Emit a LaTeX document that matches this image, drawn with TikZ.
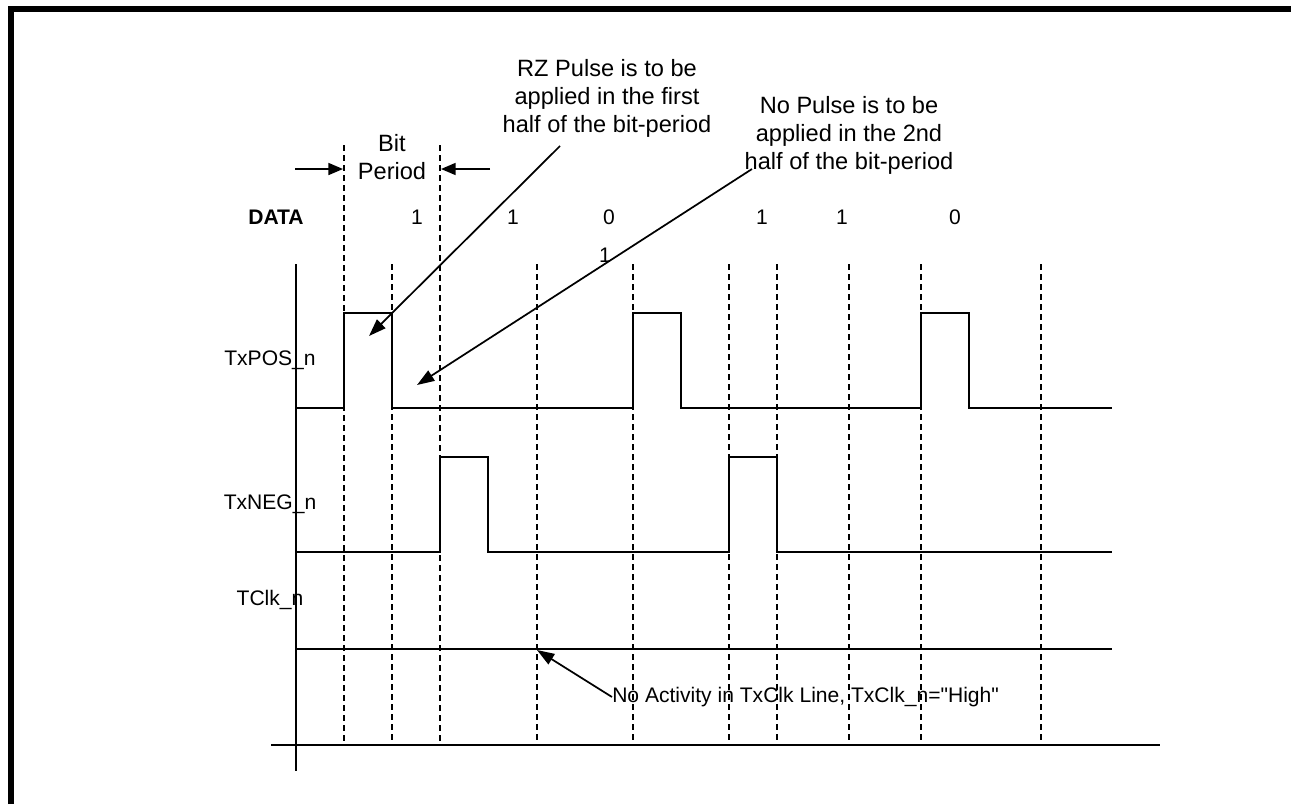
\documentclass[tikz,border=0pt]{standalone}
\usepackage{fontspec}
\setmainfont{Liberation Sans}
\usetikzlibrary{arrows.meta}
\begin{document}
\begin{tikzpicture}[x=0.75pt,y=-0.75pt,
  frame/.style={line width=4.5pt},
  axis/.style={line width=2.2pt},
  sig/.style={line width=1.5pt},
  grid/.style={line width=1.4pt,dash pattern=on 4.5pt off 3pt},
  lbl/.style={font=\fontsize{15.8}{21}\selectfont,inner sep=0pt},
  callout/.style={font=\fontsize{17.7}{21}\selectfont,inner sep=0pt,align=center},
  pointer/.style={line width=1.3pt,-{Triangle[length=13pt,width=9pt]}},
  bitarrow/.style={line width=1.3pt,-{Triangle[length=11pt,width=9pt]}}
]
\useasboundingbox (0,0) rectangle (1291,804);
% frame
\draw[frame] (11,804) -- (11,9) -- (1291,9);
% axes
\draw[axis] (296,264) -- (296,771);
\draw[axis] (271,745) -- (1160,745);
% dashed grid
\draw[grid] (344,145) -- (344,745);
\draw[grid] (440,145) -- (440,745);
\foreach \gx in {392,537,633,729,777,849,921,1041}
  \draw[grid] (\gx,264) -- (\gx,745);
% signals
\draw[sig] (296,408) -- (344,408) -- (344,313) -- (392,313) -- (392,408)
  -- (633,408) -- (633,313) -- (681,313) -- (681,408)
  -- (921,408) -- (921,313) -- (969,313) -- (969,408) -- (1112,408);
\draw[sig] (296,552) -- (440,552) -- (440,457) -- (488,457) -- (488,552)
  -- (729,552) -- (729,457) -- (777,457) -- (777,552) -- (1112,552);
\draw[sig] (296,649) -- (1112,649);
% signal labels
\node[lbl] (pos) at (270,360) {TxPOS\_n};
\node[lbl] (neg) at (270,504) {TxNEG\_n};
\node[lbl] (clk) at (270,600) {TClk\_n};
\node[lbl,font=\fontsize{15.8}{21}\selectfont\bfseries] (data) at (276,217) {DATA};
% data values
\node[lbl] (d1) at (417,217) {1};
\node[lbl] (d2) at (513,217) {1};
\node[lbl] (d3) at (609,217) {0};
\node[lbl] (d3b) at (605,255) {1};
\node[lbl] (d4) at (762,217) {1};
\node[lbl] (d5) at (842,217) {1};
\node[lbl] (d6) at (955,217) {0};
% bit period
\node[callout] (bp) at (392,157) {Bit\\Period};
\coordinate (bpl) at (295,169);
\coordinate (bpr) at (490,169);
\coordinate (bpla) at (343,169);
\coordinate (bpra) at (441,169);
\draw[bitarrow] (bpl) -- (bpla);
\draw[bitarrow] (bpr) -- (bpra);
% callouts
\node[callout] (rz) at (607,98) {RZ Pulse is to be\\applied in the first\\half of the bit-period};
\node[callout] (np) at (849,135) {No Pulse is to be\\applied in the 2nd\\half of the bit-period};
\node[lbl,anchor=west] (na) at (612,697) {No Activity in TxClk Line, TxClk\_n=\textquotedbl High\textquotedbl};
\coordinate (rzs) at (560,146);
\coordinate (rzt) at (369,336);
\coordinate (nps) at (752,169);
\coordinate (npt) at (417,385);
\coordinate (nat) at (537,650);
\draw[pointer] (rzs) -- (rzt);
\draw[pointer] (nps) -- (npt);
\draw[pointer] (na.west) -- (nat);
\end{tikzpicture}
\end{document}
